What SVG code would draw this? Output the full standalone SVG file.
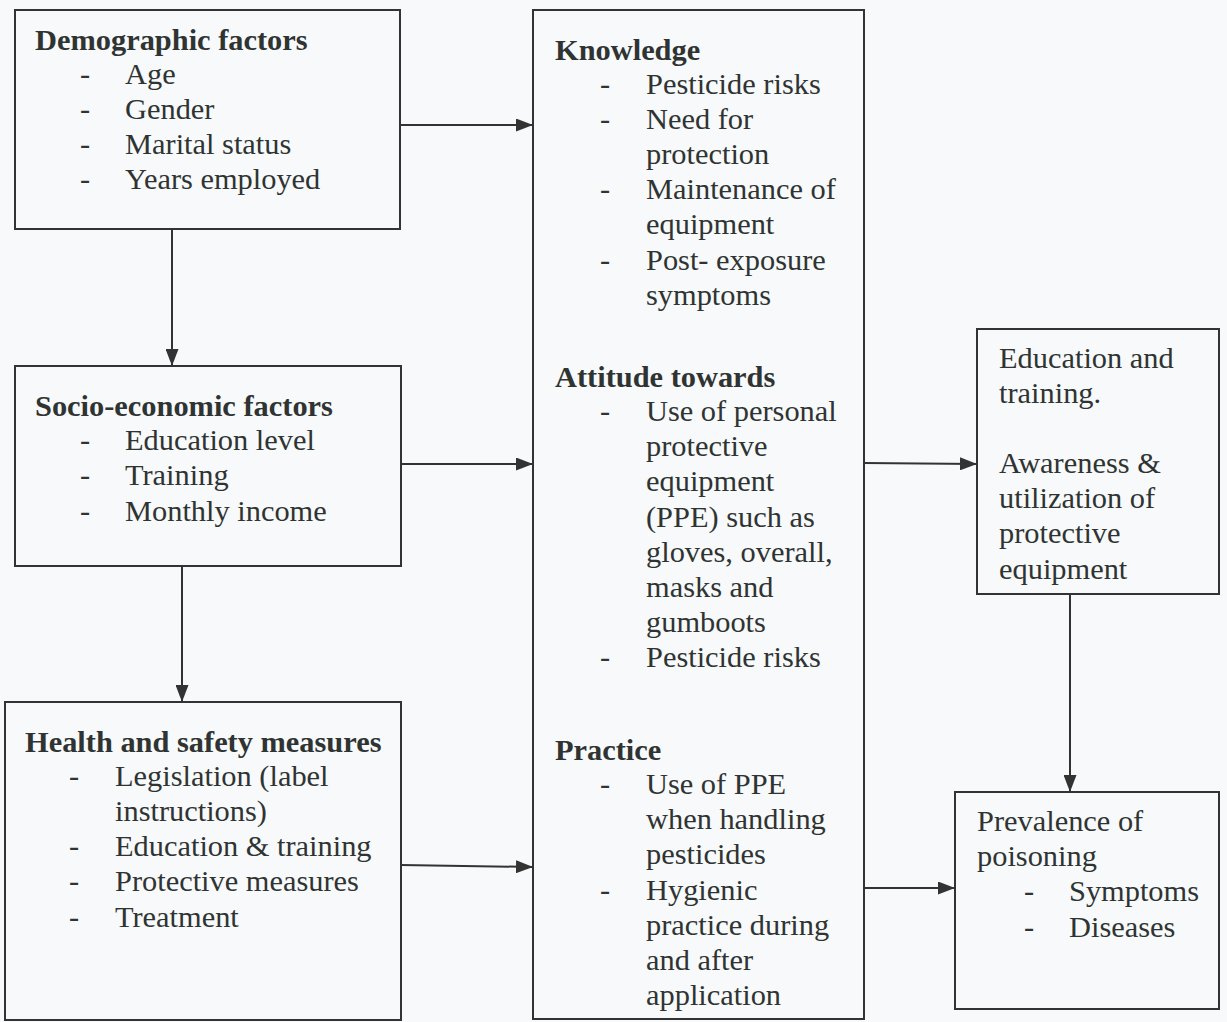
<svg xmlns="http://www.w3.org/2000/svg" width="1227" height="1022" viewBox="0 0 1227 1022">
<style>
.box{fill:none;stroke:#333;stroke-width:2}
text{font-family:"Liberation Serif","Times New Roman",serif;font-size:30.4px;fill:#2f3433}
.b{font-weight:bold}
.c{stroke:#333;stroke-width:2;fill:none;marker-end:url(#ah)}
</style>
<defs>
<marker id="ah" viewBox="0 0 17 13" refX="17" refY="6.5" markerWidth="17" markerHeight="13" markerUnits="userSpaceOnUse" orient="auto">
<path d="M0,0 L17,6.5 L0,13 Z" fill="#333"/>
</marker>
</defs>
<rect x="0" y="0" width="1227" height="1022" fill="#f7f9fa"/>
<g id="connectors">
<line class="c" x1="400" y1="125" x2="533" y2="125"/>
<line class="c" x1="172" y1="229" x2="172" y2="366"/>
<line class="c" x1="401" y1="464" x2="533" y2="464"/>
<line class="c" x1="182" y1="566" x2="182" y2="702"/>
<line class="c" x1="401" y1="865" x2="533" y2="867"/>
<line class="c" x1="864" y1="463" x2="977" y2="464"/>
<line class="c" x1="1070" y1="594" x2="1070" y2="792"/>
<line class="c" x1="864" y1="888" x2="955" y2="888"/>
</g>
<g id="demographic">
<rect class="box" x="15" y="10" width="385" height="219"/>
<text class="b" x="35" y="50">Demographic factors</text>
<text x="80" y="84">-</text><text x="125" y="84">Age</text>
<text x="80" y="119">-</text><text x="125" y="119">Gender</text>
<text x="80" y="154">-</text><text x="125" y="154">Marital status</text>
<text x="80" y="189">-</text><text x="125" y="189">Years employed</text>
</g>
<g id="socioeconomic">
<rect class="box" x="15" y="366" width="386" height="200"/>
<text class="b" x="35" y="416">Socio-economic factors</text>
<text x="80" y="450">-</text><text x="125" y="450">Education level</text>
<text x="80" y="485">-</text><text x="125" y="485">Training</text>
<text x="80" y="521">-</text><text x="125" y="521">Monthly income</text>
</g>
<g id="health">
<rect class="box" x="5" y="702" width="396" height="318"/>
<text class="b" x="25" y="752">Health and safety measures</text>
<text x="69" y="786">-</text><text x="115" y="786">Legislation (label</text>
<text x="115" y="821">instructions)</text>
<text x="69" y="856">-</text><text x="115" y="856">Education &amp; training</text>
<text x="69" y="891">-</text><text x="115" y="891">Protective measures</text>
<text x="69" y="927">-</text><text x="115" y="927">Treatment</text>
</g>
<g id="kap">
<rect class="box" x="533" y="10" width="331" height="1009"/>
<text class="b" x="555" y="60">Knowledge</text>
<text x="600" y="94">-</text><text x="646" y="94">Pesticide risks</text>
<text x="600" y="129">-</text><text x="646" y="129">Need for</text>
<text x="646" y="164">protection</text>
<text x="600" y="199">-</text><text x="646" y="199">Maintenance of</text>
<text x="646" y="234">equipment</text>
<text x="600" y="270">-</text><text x="646" y="270">Post- exposure</text>
<text x="646" y="305">symptoms</text>
<text class="b" x="555" y="387">Attitude towards</text>
<text x="600" y="421">-</text><text x="646" y="421">Use of personal</text>
<text x="646" y="456">protective</text>
<text x="646" y="491">equipment</text>
<text x="646" y="527">(PPE) such as</text>
<text x="646" y="562">gloves, overall,</text>
<text x="646" y="597">masks and</text>
<text x="646" y="632">gumboots</text>
<text x="600" y="667">-</text><text x="646" y="667">Pesticide risks</text>
<text class="b" x="555" y="760">Practice</text>
<text x="600" y="794">-</text><text x="646" y="794">Use of PPE</text>
<text x="646" y="829">when handling</text>
<text x="646" y="864">pesticides</text>
<text x="600" y="900">-</text><text x="646" y="900">Hygienic</text>
<text x="646" y="935">practice during</text>
<text x="646" y="970">and after</text>
<text x="646" y="1005">application</text>
</g>
<g id="education">
<rect class="box" x="977" y="329" width="242" height="265"/>
<text x="999" y="368">Education and</text>
<text x="999" y="403">training.</text>
<text x="999" y="473">Awareness &amp;</text>
<text x="999" y="508">utilization of</text>
<text x="999" y="543">protective</text>
<text x="999" y="579">equipment</text>
</g>
<g id="prevalence">
<rect class="box" x="955" y="792" width="264" height="217"/>
<text x="977" y="831">Prevalence of</text>
<text x="977" y="866">poisoning</text>
<text x="1024" y="901">-</text><text x="1069" y="901">Symptoms</text>
<text x="1024" y="937">-</text><text x="1069" y="937">Diseases</text>
</g>
</svg>
